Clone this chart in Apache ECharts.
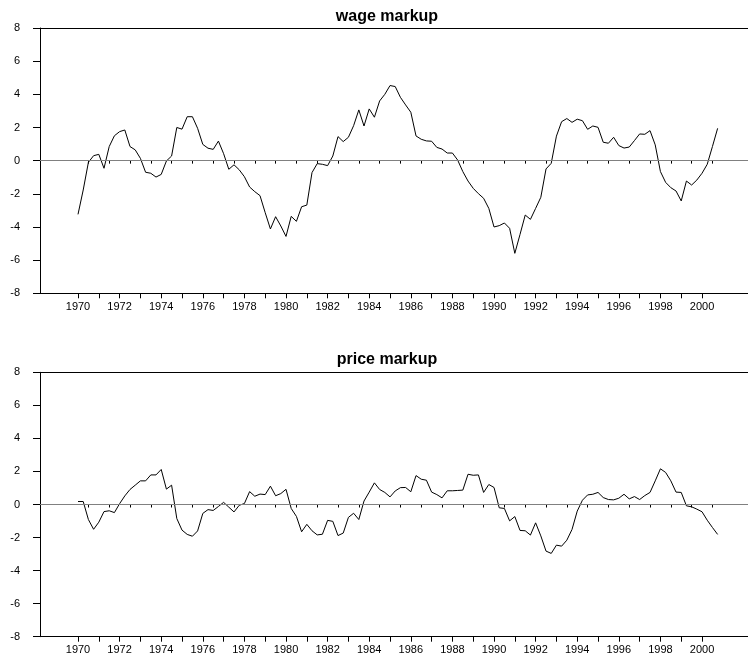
<!DOCTYPE html>
<html>
<head>
<meta charset="utf-8">
<script src="https://cdn.jsdelivr.net/npm/echarts@6/dist/echarts.min.js"></script>
<style>
  html, body { margin: 0; padding: 0; background: #fff; }
  #chart { width: 748px; height: 664px; }
</style>
</head>
<body>
<div id="chart"></div>
<script>
// quarterly series, first point = 1970 Q1
var startYear = 1970;

var wageMarkup = [
  -3.24, -1.77, -0.10, 0.30, 0.38, -0.46, 0.85, 1.50, 1.75, 1.85,
  0.85, 0.65, 0.14, -0.70, -0.76, -0.99, -0.83, -0.02, 0.28, 2.00,
  1.90, 2.65, 2.65, 1.95, 0.98, 0.75, 0.68, 1.18, 0.42, -0.52,
  -0.25, -0.55, -0.97, -1.59, -1.87, -2.11, -3.14, -4.12, -3.38, -3.94,
  -4.57, -3.36, -3.66, -2.78, -2.68, -0.72, -0.18, -0.22, -0.30, 0.28,
  1.45, 1.15, 1.41, 2.11, 3.06, 2.09, 3.12, 2.62, 3.60, 4.00,
  4.53, 4.47, 3.82, 3.36, 2.92, 1.49, 1.29, 1.19, 1.17, 0.80,
  0.70, 0.46, 0.46, 0.04, -0.66, -1.23, -1.67, -1.99, -2.27, -2.88,
  -4.00, -3.92, -3.76, -4.08, -5.59, -4.45, -3.28, -3.54, -2.88, -2.21,
  -0.50, -0.16, 1.48, 2.35, 2.54, 2.31, 2.50, 2.41, 1.89, 2.09,
  2.01, 1.11, 1.05, 1.41, 0.91, 0.76, 0.82, 1.21, 1.61, 1.59,
  1.81, 0.95, -0.66, -1.31, -1.63, -1.83, -2.43, -1.23, -1.47, -1.17,
  -0.76, -0.22, 0.85, 1.95
];

var priceMarkup = [
  0.18, 0.18, -0.91, -1.50, -1.07, -0.43, -0.38, -0.49, 0.05, 0.52,
  0.91, 1.17, 1.43, 1.43, 1.79, 1.79, 2.12, 0.93, 1.17, -0.85,
  -1.55, -1.81, -1.92, -1.60, -0.54, -0.31, -0.36, -0.12, 0.13, -0.16,
  -0.45, -0.05, 0.06, 0.78, 0.50, 0.63, 0.60, 1.11, 0.53, 0.66,
  0.92, -0.24, -0.72, -1.65, -1.20, -1.59, -1.84, -1.80, -0.96, -1.02,
  -1.88, -1.73, -0.78, -0.53, -0.91, 0.21, 0.75, 1.31, 0.91, 0.73,
  0.46, 0.82, 1.02, 1.03, 0.77, 1.75, 1.53, 1.47, 0.75, 0.60,
  0.40, 0.83, 0.83, 0.85, 0.87, 1.83, 1.77, 1.79, 0.73, 1.21,
  1.03, -0.20, -0.24, -0.99, -0.73, -1.57, -1.59, -1.85, -1.11, -1.90,
  -2.82, -2.96, -2.46, -2.52, -2.16, -1.51, -0.40, 0.26, 0.58, 0.62,
  0.73, 0.42, 0.30, 0.28, 0.38, 0.62, 0.34, 0.48, 0.30, 0.54,
  0.73, 1.43, 2.16, 1.94, 1.43, 0.75, 0.73, -0.08, -0.14, -0.28,
  -0.44, -0.95, -1.39, -1.81
];

var titles = ['wage markup', 'price markup'];
var labelYears = [1970, 1972, 1974, 1976, 1978, 1980, 1982, 1984, 1986, 1988, 1990, 1992, 1994, 1996, 1998, 2000];
var yearTicks = [];
var halfTicks = [];
for (var y = 1970; y <= 2000; y++) { yearTicks.push(y); halfTicks.push(y + 0.5); }

var xMin = 1968.173, xMax = 2002.21;
var font = 'Liberation Sans, Arial, sans-serif';

function toPoints(arr) {
  return arr.map(function (v, i) { return [startYear + i / 4, v]; });
}

var chart = echarts.init(document.getElementById('chart'));

var grids = [
  { left: 40, right: 0, top: 28, height: 265.3 },
  { left: 40, right: 0, top: 372.3, height: 264.4 }
];

var xAxes = [], yAxes = [], series = [], titleOpts = [];
var panels = [wageMarkup, priceMarkup];

panels.forEach(function (vals, g) {
  // year ticks + labels
  xAxes.push({
    type: 'value', gridIndex: g, position: 'bottom', min: xMin, max: xMax,
    axisLine: { show: true, onZero: false, lineStyle: { color: '#000', width: 1 } },
    axisTick: { show: true, length: 5, customValues: yearTicks, lineStyle: { color: '#000' } },
    axisLabel: {
      customValues: labelYears, margin: 8, color: '#000', fontSize: 11, fontFamily: font,
      formatter: function (v) { return String(v); }
    },
    splitLine: { show: false }
  });
  // half-year ticks
  xAxes.push({
    type: 'value', gridIndex: g, position: 'bottom', min: xMin, max: xMax,
    axisLine: { show: false },
    axisTick: { show: true, length: 3, customValues: halfTicks, lineStyle: { color: '#000' } },
    axisLabel: { show: false },
    splitLine: { show: false }
  });
  yAxes.push({
    type: 'value', gridIndex: g, min: -8, max: 8, interval: 2,
    axisLine: { show: true, lineStyle: { color: '#000', width: 1 } },
    axisTick: { show: true, length: 7, lineStyle: { color: '#000' } },
    axisLabel: { margin: 20, color: '#000', fontSize: 11, fontFamily: font },
    splitLine: { show: false }
  });
  series.push({
    type: 'line',
    xAxisIndex: g * 2,
    yAxisIndex: g,
    data: toPoints(vals),
    showSymbol: false,
    symbol: 'none',
    lineStyle: { color: '#000', width: 1 },
    animation: false,
    markLine: {
      silent: true,
      symbol: 'none',
      label: { show: false },
      animation: false,
      data: [
        { yAxis: 0, lineStyle: { color: '#808080', width: 1, type: 'solid' } },
        { yAxis: 8, lineStyle: { color: '#000', width: 1, type: 'solid' } }
      ]
    }
  });
  titleOpts.push({
    text: titles[g],
    left: 382,
    textAlign: 'center',
    top: g === 0 ? 4 : 347,
    textStyle: { fontSize: 16, fontWeight: 'bold', color: '#000', fontFamily: font }
  });
});

chart.setOption({
  animation: false,
  title: titleOpts,
  grid: grids,
  xAxis: xAxes,
  yAxis: yAxes,
  series: series
});
</script>
</body>
</html>
